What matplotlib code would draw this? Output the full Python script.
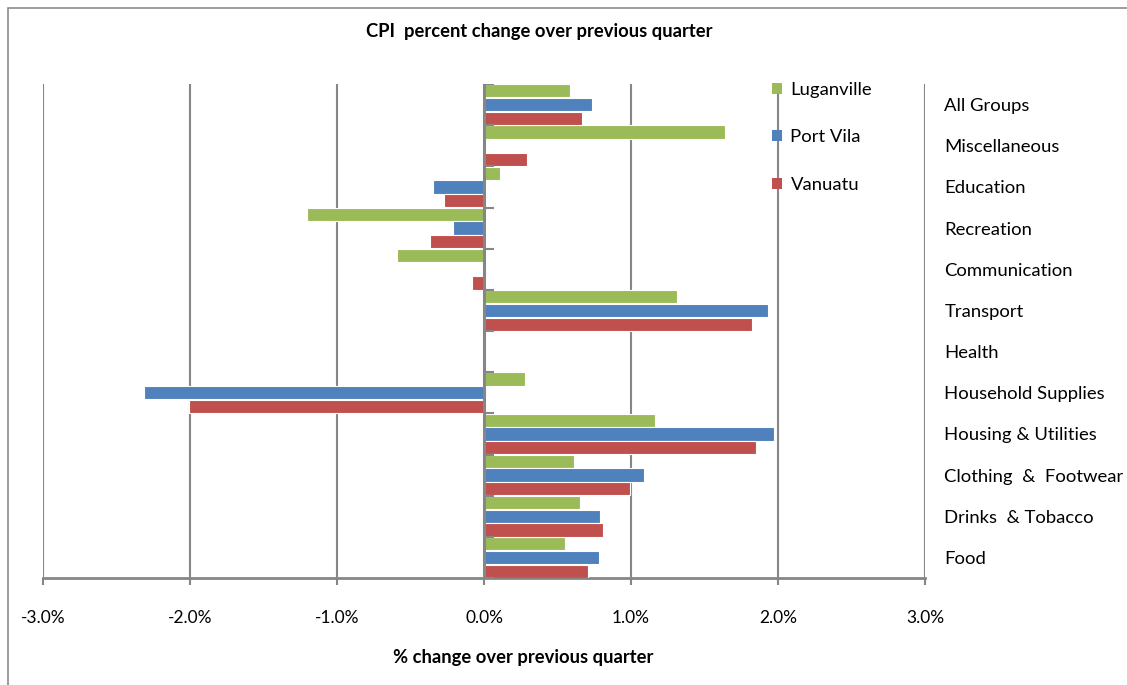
import numpy as np
import matplotlib
matplotlib.use("Agg")
import matplotlib.pyplot as plt
from matplotlib.patches import Patch, Rectangle
from matplotlib.ticker import FuncFormatter

categories = ["Food", "Drinks  & Tobacco", "Clothing  &  Footwear", "Housing & Utilities",
              "Household Supplies", "Health", "Transport", "Communication",
              "Recreation", "Education", "Miscellaneous", "All Groups"]
luganville = [0.55, 0.65, 0.61, 1.16, 0.28, 0.0, 1.31, -0.59, -1.205, 0.11, 1.64, 0.585]
port_vila = [0.78, 0.79, 1.09, 1.97, -2.31, 0.0, 1.93, 0.0, -0.21, -0.35, 0.0, 0.735]
vanuatu = [0.71, 0.81, 0.99, 1.85, -2.01, 0.0, 1.82, -0.08, -0.37, -0.27, 0.29, 0.67]
series_names = ["Luganville", "Port Vila", "Vanuatu"]
colors = ["#9BBB59", "#4F81BD", "#C0504D"]
xticks = [-3, -2, -1, 0, 1, 2, 3]

plt.rcParams["font.family"] = ["Lato", "DejaVu Sans"]
grey = "#868686"

fig = plt.figure(figsize=(11.27, 6.85), dpi=100)
ax = fig.add_axes([43 / 1127, 107 / 685, 882 / 1127, 494 / 685])

y = np.arange(len(categories))
h = 0.32
for vals, off, c in zip([luganville, port_vila, vanuatu], [1 / 3, 0, -1 / 3], colors):
    ax.barh(y + off, vals, height=h, color=c, edgecolor="white", linewidth=0.8, zorder=3)

ax.set_xlim(-3, 3)
ax.set_ylim(-0.5, len(categories) - 0.5)
ax.set_xticks(xticks)
ax.xaxis.set_major_formatter(FuncFormatter(lambda v, p: f"{v:.1f}%"))
ax.tick_params(axis="x", direction="out", length=5, width=1.5, color=grey,
               labelsize=12.5, pad=18)
for v in xticks:
    if v != 0:
        ax.axvline(v, color=grey, lw=1.5, zorder=1)
ax.axvline(0, color=grey, lw=2.2, zorder=4)

# small category separators on the zero axis
for b in np.arange(len(categories) + 1) - 0.5:
    ax.plot([0, 0.07], [b, b], color=grey, lw=1.5, zorder=4, solid_capstyle="butt")

ax.yaxis.tick_right()
ax.set_yticks(y)
ax.set_yticklabels(categories)
ax.tick_params(axis="y", length=0, labelsize=13.3, pad=14)

for s in ["top", "left", "right"]:
    ax.spines[s].set_visible(False)
ax.spines["bottom"].set_color(grey)
ax.spines["bottom"].set_linewidth(2)

handles = [Patch(facecolor=c, edgecolor="none") for c in colors]
fig.legend(handles, series_names, loc="upper left", bbox_to_anchor=(772 / 1127, 1 - 82 / 685),
           frameon=False, fontsize=13.3, handlelength=0.55, handleheight=0.55,
           handletextpad=0.45, labelspacing=1.7, borderpad=0, borderaxespad=0)

fig.text(539 / 1127, 1 - 32 / 685, "CPI  percent change over previous quarter",
         ha="center", va="center", fontsize=13.2, fontweight="bold")
fig.text(523 / 1127, 1 - 658 / 685, "% change over previous quarter",
         ha="center", va="center", fontsize=13.2, fontweight="bold")

# chart frame: only top and left edges fall inside the image
fig.patches.append(Rectangle((8 / 1127, -0.05), 1.1, 1.05 - 8 / 685,
                             transform=fig.transFigure, fill=False,
                             edgecolor="#8c8c8c", lw=1.2))

fig.savefig("out.png", dpi=100)
